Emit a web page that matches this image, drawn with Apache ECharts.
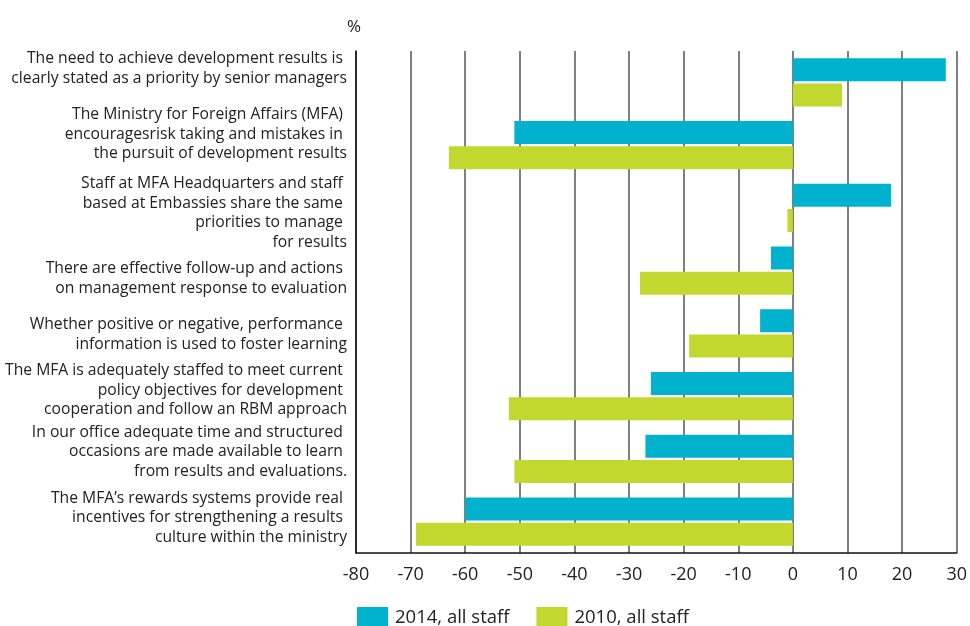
<!DOCTYPE html>
<html>
<head>
<meta charset="utf-8">
<script src="https://cdn.jsdelivr.net/npm/echarts@6/dist/echarts.min.js"></script>
<style>
  html, body { margin: 0; padding: 0; background: #fff; }
  #chart { width: 970px; height: 626px; }
</style>
</head>
<body>
<div id="chart"></div>
<script>
const categories = [
  'The need to achieve development results is \nclearly stated as a priority by senior managers',
  'The Ministry for Foreign Affairs (MFA) \nencouragesrisk taking and mistakes in \nthe pursuit of development results',
  'Staff at MFA Headquarters and staff \nbased at Embassies share the same \npriorities to manage \nfor results',
  'There are effective follow-up and actions \non management response to evaluation',
  'Whether positive or negative, performance \ninformation is used to foster learning',
  'The MFA is adequately staffed to meet current \npolicy objectives for development \ncooperation and follow an RBM approach',
  'In our office adequate time and structured \noccasions are made available to learn \nfrom results and evaluations.',
  'The MFA\u2019s rewards systems provide real \nincentives for strengthening a results \nculture within the ministry'
]
// vertical nudge of each label against its bar pair (px, negative = up)
const labelShift = [-14, -11, 5, 8, 1, -6, -7, -4]

const staff2014 = [28, -51, 18, -4, -6, -26, -27, -60]
const staff2010 = [9, -63, -1, -28, -19, -52, -51, -69]

const xTicks = [-80, 30, 10]

const chart = echarts.init(document.getElementById('chart'))

const font = '"Open Sans", sans-serif'

// rich styles: 't' for text lines, 'g0'..'g7' as empty spacer lines
const rich = { t: { fontSize: 15.7, lineHeight: 19.5, color: '#222', fontFamily: font, align: 'right' } }
labelShift.forEach((s, i) => {
  rich['g' + i] = { fontSize: 1, lineHeight: Math.max(1, Math.abs(s) * 2), align: 'right' }
})

const option = {
  animation: false,
  textStyle: { fontFamily: font },
  graphic: [
    {
      type: 'text',
      left: 347,
      top: 19,
      style: { text: '%', fontSize: 17, fill: '#222', fontFamily: font }
    }
  ],
  legend: {
    bottom: -3,
    left: 357,
    padding: 0,
    itemWidth: 31,
    itemHeight: 22,
    itemGap: 27,
    icon: 'rect',
    textStyle: { fontSize: 18.5, color: '#222', fontFamily: font, padding: [0, 0, 0, 2] },
    data: ['2014, all staff', '2010, all staff']
  },
  grid: {
    left: 356,
    right: 13,
    top: 51,
    bottom: 73
  },
  xAxis: {
    type: 'value',
    min: xTicks[0],
    max: xTicks[1],
    interval: xTicks[2],
    axisLine: { show: true, lineStyle: { color: '#111', width: 1.5 } },
    axisTick: { show: false },
    axisLabel: { fontSize: 18, color: '#222', margin: 13 },
    splitLine: { show: true, lineStyle: { color: '#555', width: 1.5 } }
  },
  yAxis: {
    type: 'category',
    inverse: true,
    data: categories,
    axisLine: { show: true, onZero: false, lineStyle: { color: '#111', width: 1.5 } },
    axisTick: { show: false },
    axisLabel: {
      interval: 0,
      margin: 9,
      align: 'right',
      rich: rich,
      formatter: (value, index) => {
        const body = value.split('\n').map((l) => '{t|' + l + '}').join('\n')
        const s = labelShift[index]
        if (s < 0) return body + '\n{g' + index + '| }'
        if (s > 0) return '{g' + index + '| }\n' + body
        return body
      }
    }
  },
  series: [
    {
      name: '2014, all staff',
      type: 'bar',
      barWidth: 23,
      barGap: '10%',
      itemStyle: { color: '#00b2ce' },
      data: staff2014
    },
    {
      name: '2010, all staff',
      type: 'bar',
      barWidth: 23,
      barGap: '10%',
      itemStyle: { color: '#c2d82f' },
      data: staff2010
    }
  ]
}

chart.setOption(option)
</script>
</body>
</html>
